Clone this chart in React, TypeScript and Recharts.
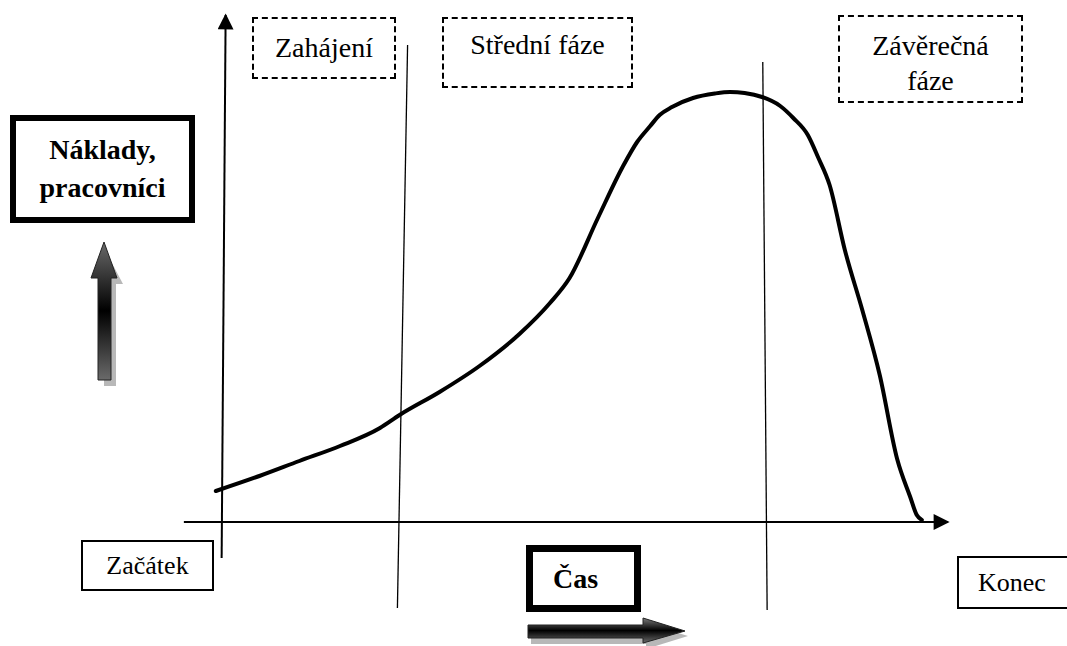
import React from "react";
import { LineChart, Line, XAxis, YAxis, ReferenceLine } from "recharts";

// time (0 = start axis, 100 = arrow tip) and cost/staff (0 = time axis)
const time = [-0.8, 5.2, 10.7, 16.3, 21.8, 24.5, 30.0, 35.5, 41.0, 45.2, 47.9, 51.8, 55.2, 57.2, 59.0, 60.3, 62.0, 64.9, 67.9, 70.0, 72.0, 74.4, 76.9, 78.7, 80.7, 82.1, 83.7, 85.8, 88.2, 90.6, 93.0, 94.8, 95.7, 96.4];
const cost = [6.2, 9.2, 12.2, 15.2, 18.8, 21.4, 26.0, 31.2, 37.6, 43.8, 48.8, 60.8, 71.0, 76.0, 79.2, 81.4, 83.0, 84.8, 85.7, 86.0, 85.8, 85.0, 83.2, 80.8, 77.4, 73.0, 67.4, 54.4, 42.4, 29.4, 12.6, 5.0, 1.4, 0.4];

const phaseLabels = ["Zahájení", "Střední fáze", "Závěrečná", "fáze"];
const axisLabels = { y1: "Náklady,", y2: "pracovníci", x: "Čas", start: "Začátek", end: "Konec" };

const data = time.map((t, i) => ({ t, c: cost[i] }));

const serif = '"Liberation Serif", "Times New Roman", Tinos, "DejaVu Serif", serif';

const box = (s: React.CSSProperties): React.CSSProperties => ({
	position: "absolute",
	boxSizing: "border-box",
	display: "flex",
	alignItems: "center",
	justifyContent: "center",
	textAlign: "center",
	fontFamily: serif,
	color: "#000",
	background: "#fff",
	whiteSpace: "nowrap",
	...s,
});

const seg = (stroke: number, marker?: string) => (p: any) => (
	<line
		x1={p.x1}
		y1={p.y1}
		x2={p.x2}
		y2={p.y2}
		stroke="#000"
		strokeWidth={stroke}
		markerEnd={marker}
	/>
);

export default function App() {
	return (
		<div style={{ position: "absolute", left: 0, top: 0, width: 1067, height: 646, background: "#fff", overflow: "hidden" }}>
			<LineChart width={1067} height={646} data={data} margin={{ top: 22, right: 119, bottom: 74, left: 149 }}>
				<defs>
					<marker id="arrowHeadBig" viewBox="0 0 10 10" refX="9" refY="5" markerWidth="18" markerHeight="16" orient="auto" markerUnits="userSpaceOnUse">
						<path d="M0,0 L10,5 L0,10 z" fill="#000" />
					</marker>
				</defs>
				<XAxis type="number" dataKey="t" domain={[-10, 100]} allowDataOverflow hide />
				<YAxis type="number" dataKey="c" domain={[-10, 100]} allowDataOverflow hide />
				{/* axes */}
				<ReferenceLine ifOverflow="visible" segment={[{ x: -5.2, y: 0 }, { x: 100, y: 0 }]} shape={seg(2, "url(#arrowHeadBig)")} />
				<ReferenceLine ifOverflow="visible" segment={[{ x: 0, y: -7.2 }, { x: 0.55, y: 101.4 }]} shape={seg(2, "url(#arrowHeadBig)")} />
				{/* phase dividers */}
				<ReferenceLine ifOverflow="visible" segment={[{ x: 25.6, y: 95.4 }, { x: 24.2, y: -17.2 }]} shape={seg(1.3)} />
				<ReferenceLine ifOverflow="visible" segment={[{ x: 74.5, y: 92 }, { x: 75.1, y: -17.6 }]} shape={seg(1.3)} />
				<Line
					type="monotone"
					dataKey="c"
					stroke="#000"
					strokeWidth={4}
					dot={false}
					strokeLinecap="round"
					isAnimationActive={false}
				/>
			</LineChart>

			{/* phase boxes */}
			<div style={box({ left: 252, top: 17, width: 144, height: 62, border: "2px dashed #000", fontSize: 28 })}>{phaseLabels[0]}</div>
			<div style={box({ left: 442, top: 17, width: 191, height: 71, border: "2px dashed #000", fontSize: 28, lineHeight: "32px", alignItems: "flex-start", paddingTop: 10 })}>{phaseLabels[1]}</div>
			<div style={box({ left: 838, top: 15, width: 185, height: 88, border: "2px dashed #000", fontSize: 28, lineHeight: "35px", paddingTop: 8 })}>
				<span>{phaseLabels[2]}<br />{phaseLabels[3]}</span>
			</div>

			{/* y label box */}
			<div style={box({ left: 10, top: 115, width: 185, height: 108, border: "6px solid #000", fontSize: 28, fontWeight: "bold", lineHeight: "38px" })}>
				<span>{axisLabels.y1}<br />{axisLabels.y2}</span>
			</div>

			{/* x label box */}
			<div style={box({ left: 526, top: 545, width: 115, height: 67, border: "7px solid #000", fontSize: 28, fontWeight: "bold", justifyContent: "flex-start", paddingLeft: 20 })}>{axisLabels.x}</div>

			<div style={box({ left: 81, top: 540, width: 133, height: 51, border: "2px solid #000", fontSize: 26 })}>{axisLabels.start}</div>
			<div style={box({ left: 957, top: 556, width: 120, height: 53, border: "2px solid #000", fontSize: 26, justifyContent: "flex-start", paddingLeft: 19 })}>{axisLabels.end}</div>

			{/* decorative arrows */}
			<svg width={1067} height={646} style={{ position: "absolute", left: 0, top: 0, pointerEvents: "none" }}>
				<defs>
					<linearGradient id="gUp" x1="0" y1="0" x2="0" y2="1">
						<stop offset="0%" stopColor="#6a6a6a" />
						<stop offset="50%" stopColor="#000" />
						<stop offset="100%" stopColor="#6a6a6a" />
					</linearGradient>
					<linearGradient id="gRight" x1="0" y1="0" x2="0" y2="1">
						<stop offset="0%" stopColor="#7a7a7a" />
						<stop offset="50%" stopColor="#000" />
						<stop offset="100%" stopColor="#6a6a6a" />
					</linearGradient>
				</defs>
				<path d="M101,245 L120,281 L113,281 L113,383 L101,383 z" fill="#888" opacity={0.6} transform="translate(3,3)" />
				<path d="M104,242 L117,278 L111,278 L111,380 L98,380 L98,278 L91,278 z" fill="url(#gUp)" stroke="#222" strokeWidth={1} />
				<path d="M531,629 L646,629 L646,621 L688,634 L646,647 L646,642 L531,642 z" fill="#888" opacity={0.6} transform="translate(0,2)" />
				<path d="M528,625 L643,625 L643,618 L685,631 L643,643 L643,638 L528,638 z" fill="url(#gRight)" stroke="#222" strokeWidth={1} />
			</svg>
		</div>
	);
}
